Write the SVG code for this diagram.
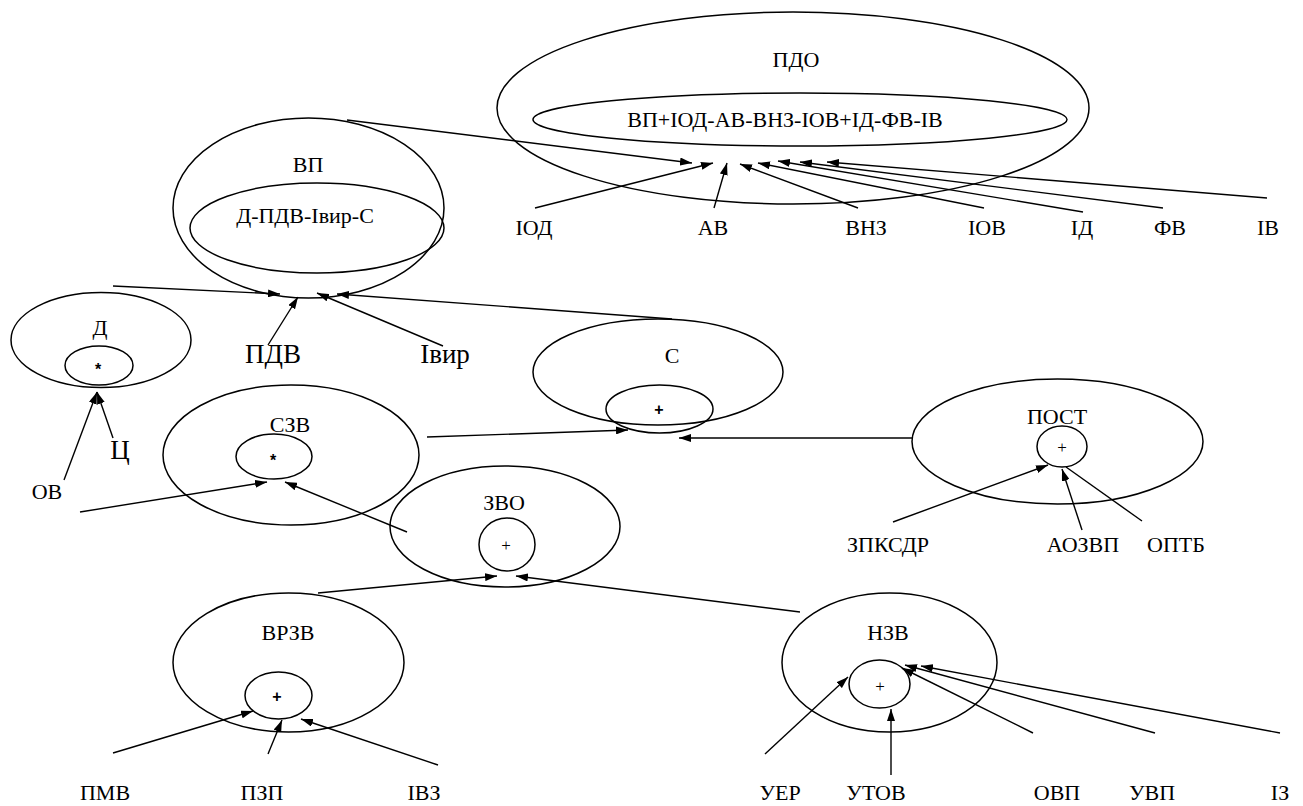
<svg xmlns="http://www.w3.org/2000/svg" width="1303" height="806" viewBox="0 0 1303 806">
<style>
.e{fill:none;stroke:#000;stroke-width:1.5}
.c{stroke:#000;stroke-width:1.4;fill:none;marker-end:url(#ah)}
.p{stroke:#000;stroke-width:1.4;fill:none}
.t{font-family:'Liberation Serif','Times New Roman',Times,serif;font-size:22px;fill:#000;text-anchor:middle}
.b{font-family:'Liberation Serif','Times New Roman',Times,serif;font-size:27px;fill:#000;text-anchor:middle}
.s{font-family:'Liberation Sans',Arial,sans-serif;font-size:16px;font-weight:bold;fill:#000;text-anchor:middle}
.n{font-family:'Liberation Serif','Times New Roman',Times,serif;font-size:17px;fill:#000;text-anchor:middle}
</style>
<defs>
<marker id="ah" viewBox="0 0 12 8" refX="12" refY="4" markerWidth="12" markerHeight="8" orient="auto" markerUnits="userSpaceOnUse"><path d="M0,0 L12,4 L0,8 z" fill="#000"/></marker>
</defs>
<g id="node-PDO">
<ellipse class="e" cx="793" cy="108" rx="296" ry="96"/>
<text class="t" x="796" y="67">ПДО</text>
<ellipse class="e" cx="800" cy="119.5" rx="267" ry="26.5"/>
<text class="t" x="785" y="127">ВП+ІОД-АВ-ВНЗ-ІОВ+ІД-ФВ-ІВ</text>
</g>
<g id="node-VP">
<ellipse class="e" cx="308.5" cy="208" rx="135.5" ry="90"/>
<text class="t" x="308" y="172">ВП</text>
<ellipse class="e" cx="317" cy="228" rx="127" ry="45"/>
<text class="t" x="305" y="223">Д-ПДВ-Івир-С</text>
</g>
<g id="node-D">
<ellipse class="e" cx="101" cy="340" rx="90" ry="47.5"/>
<text class="t" x="100" y="335">Д</text>
<ellipse class="e" cx="99" cy="365.5" rx="34" ry="19.5"/>
<text class="s" x="98" y="375">*</text>
</g>
<g id="node-SZV">
<ellipse class="e" cx="291" cy="455" rx="128" ry="70"/>
<text class="t" x="290" y="432">СЗВ</text>
<ellipse class="e" cx="274" cy="456.5" rx="38" ry="22.5"/>
<text class="s" x="273" y="466">*</text>
</g>
<g id="node-S">
<ellipse class="e" cx="658" cy="372" rx="125" ry="53"/>
<text class="t" x="672" y="363">С</text>
<ellipse class="e" cx="659.5" cy="409" rx="53.5" ry="24"/>
<text class="s" x="659" y="415">+</text>
</g>
<g id="node-POST">
<ellipse class="e" cx="1057.5" cy="441.5" rx="145.5" ry="62.5"/>
<text class="t" x="1057" y="424">ПОСТ</text>
<ellipse class="e" cx="1062" cy="446.5" rx="25" ry="20.5"/>
<text class="n" x="1062" y="453">+</text>
</g>
<g id="node-ZVO">
<ellipse class="e" cx="505" cy="526.5" rx="115" ry="60.5"/>
<text class="t" x="504" y="510">ЗВО</text>
<ellipse class="e" cx="507" cy="544.5" rx="28" ry="26.5"/>
<text class="n" x="506" y="551">+</text>
</g>
<g id="node-VRZV">
<ellipse class="e" cx="288.5" cy="662.5" rx="115.5" ry="69.5"/>
<text class="t" x="288" y="640">ВРЗВ</text>
<ellipse class="e" cx="278.5" cy="695.5" rx="33.5" ry="23.5"/>
<text class="s" x="277" y="702">+</text>
</g>
<g id="node-NZV">
<ellipse class="e" cx="889.5" cy="662.5" rx="107.5" ry="69.5"/>
<text class="t" x="888" y="640">НЗВ</text>
<ellipse class="e" cx="879.5" cy="684" rx="30.5" ry="24"/>
<text class="n" x="880" y="692">+</text>
</g>
<g id="labels">
<text class="t" x="534" y="235">ІОД</text>
<text class="t" x="713" y="235">АВ</text>
<text class="t" x="866" y="235">ВНЗ</text>
<text class="t" x="987" y="235">ІОВ</text>
<text class="t" x="1082" y="235">ІД</text>
<text class="t" x="1170" y="235">ФВ</text>
<text class="t" x="1268" y="235">ІВ</text>
<text class="b" x="273" y="363">ПДВ</text>
<text class="b" x="445" y="363">Івир</text>
<text class="b" x="120" y="459">Ц</text>
<text class="t" x="47" y="499">ОВ</text>
<text class="t" x="888" y="552">ЗПКСДР</text>
<text class="t" x="1083" y="552">АОЗВП</text>
<text class="t" x="1176" y="552">ОПТБ</text>
<text class="t" x="105" y="800">ПМВ</text>
<text class="t" x="262" y="800">ПЗП</text>
<text class="t" x="424" y="800">ІВЗ</text>
<text class="t" x="780" y="800">УЕР</text>
<text class="t" x="876" y="800">УТОВ</text>
<text class="t" x="1057" y="800">ОВП</text>
<text class="t" x="1152" y="800">УВП</text>
<text class="t" x="1280" y="800">ІЗ</text>
</g>
<g id="connectors">
<line class="c" x1="347" y1="120" x2="692" y2="163"/>
<line class="c" x1="535" y1="208" x2="713" y2="163"/>
<line class="c" x1="714" y1="208" x2="727" y2="163"/>
<line class="c" x1="858" y1="208" x2="740" y2="164"/>
<line class="c" x1="984" y1="208" x2="758" y2="163"/>
<line class="c" x1="1083" y1="212" x2="778" y2="161"/>
<line class="c" x1="1163" y1="208" x2="800" y2="162"/>
<line class="c" x1="1267" y1="198" x2="827" y2="162"/>
<line class="c" x1="113" y1="286" x2="280" y2="294"/>
<line class="c" x1="268" y1="345" x2="298" y2="297"/>
<line class="c" x1="443" y1="346" x2="317" y2="293"/>
<line class="c" x1="672" y1="319" x2="337" y2="294"/>
<line class="c" x1="64" y1="480" x2="97" y2="392"/>
<line class="c" x1="113" y1="438" x2="97" y2="392"/>
<line class="c" x1="80" y1="512" x2="267" y2="482"/>
<line class="c" x1="407" y1="532" x2="285" y2="482"/>
<line class="c" x1="427" y1="437" x2="628" y2="430"/>
<line class="c" x1="912" y1="438" x2="679" y2="438"/>
<line class="c" x1="893" y1="522" x2="1048" y2="465"/>
<line class="c" x1="1082" y1="530" x2="1062" y2="469"/>
<line class="p" x1="1142" y1="521" x2="1066" y2="467"/>
<line class="c" x1="318" y1="593" x2="497" y2="576"/>
<line class="c" x1="800" y1="612" x2="516" y2="576"/>
<line class="c" x1="113" y1="753" x2="253" y2="711"/>
<line class="c" x1="268" y1="754" x2="282" y2="720"/>
<line class="c" x1="438" y1="765" x2="301" y2="719"/>
<line class="c" x1="765" y1="754" x2="848" y2="677"/>
<line class="c" x1="891" y1="775" x2="891" y2="709"/>
<line class="c" x1="1033" y1="733" x2="902" y2="668"/>
<line class="c" x1="1155" y1="733" x2="905" y2="665"/>
<line class="c" x1="1280" y1="733" x2="921" y2="666"/>
</g>
</svg>
